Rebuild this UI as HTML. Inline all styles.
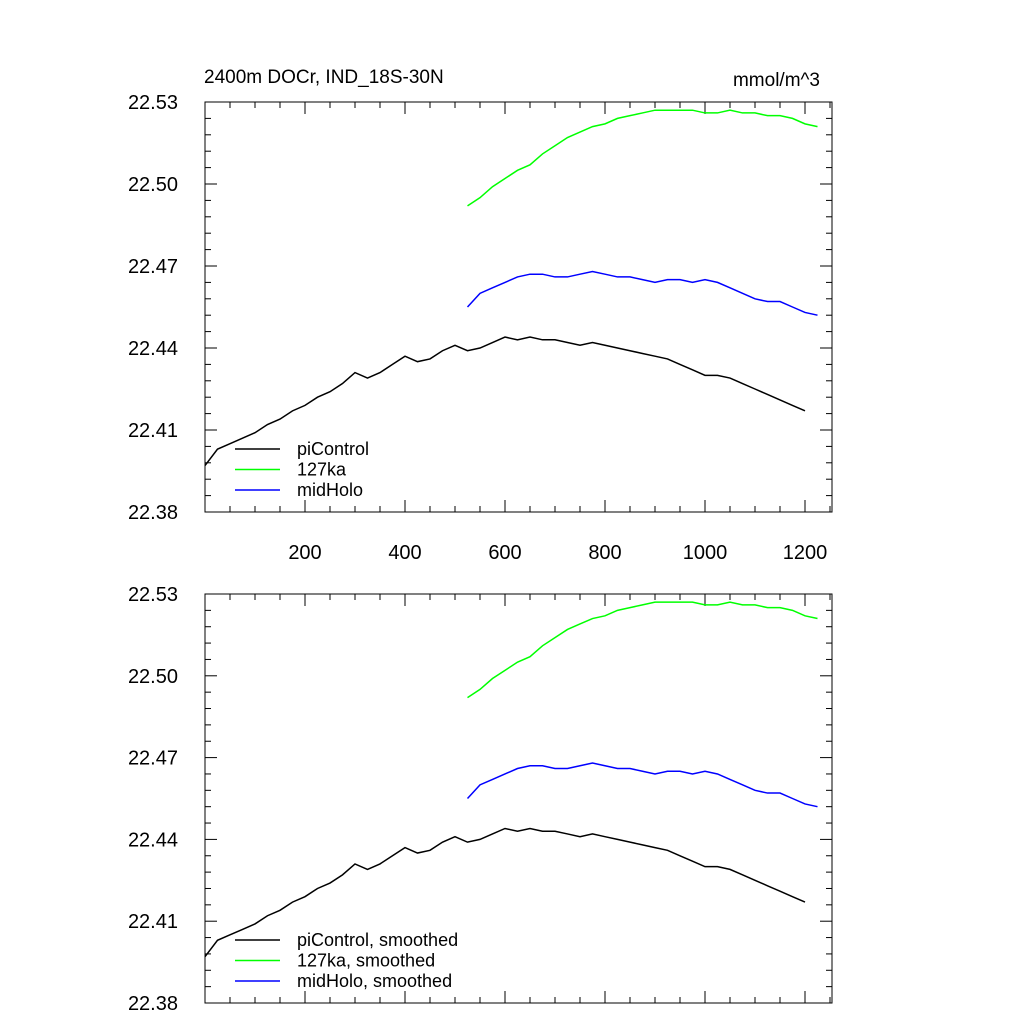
<!DOCTYPE html>
<html><head><meta charset="utf-8"><style>
body{margin:0;background:#fff}
svg{display:block;font-family:"Liberation Sans",Arial,sans-serif}
</style></head><body>
<svg id="chart" width="1024" height="1024" viewBox="0 0 1024 1024"></svg>
<script>
const years = [0,25,50,75,100,125,150,175,200,225,250,275,300,325,350,375,400,425,450,475,500,525,550,575,600,625,650,675,700,725,750,775,800,825,850,875,900,925,950,975,1000,1025,1050,1075,1100,1125,1150,1175,1200];
const piControl = [22.397,22.403,22.405,22.407,22.409,22.412,22.414,22.417,22.419,22.422,22.424,22.427,22.431,22.429,22.431,22.434,22.437,22.435,22.436,22.439,22.441,22.439,22.440,22.442,22.444,22.443,22.444,22.443,22.443,22.442,22.441,22.442,22.441,22.440,22.439,22.438,22.437,22.436,22.434,22.432,22.430,22.430,22.429,22.427,22.425,22.423,22.421,22.419,22.417];
const yearsB = [525,550,575,600,625,650,675,700,725,750,775,800,825,850,875,900,925,950,975,1000,1025,1050,1075,1100,1125,1150,1175,1200,1225];
const ka127 = [22.492,22.495,22.499,22.502,22.505,22.507,22.511,22.514,22.517,22.519,22.521,22.522,22.524,22.525,22.526,22.527,22.527,22.527,22.527,22.526,22.526,22.527,22.526,22.526,22.525,22.525,22.524,22.522,22.521];
const midHolo = [22.455,22.460,22.462,22.464,22.466,22.467,22.467,22.466,22.466,22.467,22.468,22.467,22.466,22.466,22.465,22.464,22.465,22.465,22.464,22.465,22.464,22.462,22.460,22.458,22.457,22.457,22.455,22.453,22.452];
const yTicks = [22.38,22.41,22.44,22.47,22.50,22.53];
const xTicks = [200,400,600,800,1000,1200];

const NS="http://www.w3.org/2000/svg";
const svg=document.getElementById('chart');
function mk(t,a,p){const e=document.createElementNS(NS,t);for(const k in a)e.setAttribute(k,a[k]);(p||svg).appendChild(e);return e;}
const X0=205,X1=832;
function sx(v){return X0+v*0.5;}
function panel(top,bottom,showX,labels,name){
  const g=mk('g',{});
  
  
  function sy(v){return bottom-(v-22.38)/0.15*(bottom-top);}
  const frame=mk('rect',{x:X0,y:top,width:X1-X0,height:bottom-top,fill:'none',stroke:'#000','stroke-width':1},g);
  
  
  for(let v=50;v<=1250;v+=50){
    const major=v%200===0;const L=major?12:6;const x=sx(v);
    mk('line',{x1:x,x2:x,y1:bottom,y2:bottom-L,stroke:'#000'},g);
    mk('line',{x1:x,x2:x,y1:top,y2:top+L,stroke:'#000'},g);
  }
  if(showX){xTicks.forEach(v=>{const t=mk('text',{x:sx(v),y:bottom+47,'font-size':20,'text-anchor':'middle'},g);t.textContent=v;
    });}
  for(let i=0;i<=25;i++){
    const v=22.38+i*0.006;const major=i%5===0;const L=major?12:6;const y=sy(v);
    mk('line',{x1:X0,x2:X0+L,y1:y,y2:y,stroke:'#000'},g);
    mk('line',{x1:X1,x2:X1-L,y1:y,y2:y,stroke:'#000'},g);
  }
  yTicks.forEach(v=>{const t=mk('text',{x:178,y:sy(v)+7,'font-size':20,'text-anchor':'end'},g);t.textContent=v.toFixed(2);
    });
  function line(xs,ys,c,n){const p=mk('polyline',{points:xs.map((x,i)=>sx(x)+','+sy(ys[i])).join(' '),fill:'none',stroke:c,'stroke-width':1.5},g);
    }
  line(years,piControl,'#000','picontrol-line');
  line(yearsB,ka127,'#00ff00','127ka-line');
  line(yearsB,midHolo,'#0000ff','midholo-line');
  const cols=['#000','#00ff00','#0000ff'];
  labels.forEach((s,i)=>{const y=bottom-63+i*20.5;
    mk('line',{x1:235,x2:280,y1:y,y2:y,stroke:cols[i],'stroke-width':1.5},g);
    const t=mk('text',{x:297,y:y+6,'font-size':18},g);t.textContent=s;
    });
}
panel(102,512,true,['piControl','127ka','midHolo'],'top-panel');
panel(594,1003,false,['piControl, smoothed','127ka, smoothed','midHolo, smoothed'],'bottom-panel');
const t1=mk('text',{x:204,y:83,'font-size':19});t1.textContent='2400m DOCr, IND_18S-30N';

const t2=mk('text',{x:820,y:86,'font-size':19,'text-anchor':'end'});t2.textContent='mmol/m^3';

</script>
</body></html>
